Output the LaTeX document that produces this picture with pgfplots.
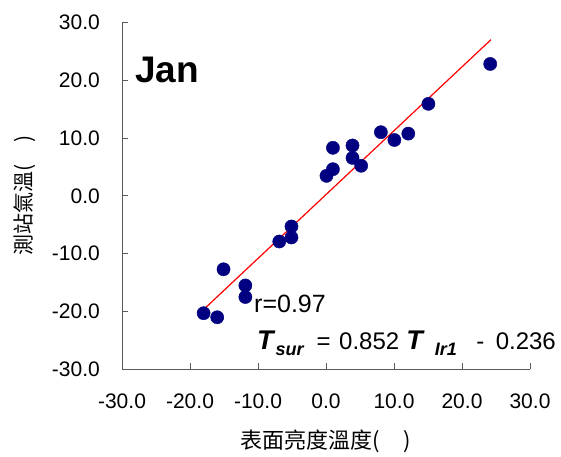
\documentclass[border=0pt]{standalone}
\usepackage{pgfplots}
\pgfplotsset{compat=1.18}
\usepackage{fontspec}
\setmainfont{Liberation Sans}
\newfontfamily\cjk{Noto Sans CJK TC}
\definecolor{navy}{RGB}{0,0,128}
\definecolor{axgray}{RGB}{90,90,90}
\begin{document}
\begin{tikzpicture}
\begin{axis}[
  at={(122pt,-369.3pt)}, anchor=south west,
  width=408pt, height=347pt, scale only axis,
  xmin=-30, xmax=30, ymin=-30, ymax=30,
  axis lines*=left,
  axis line style={axgray, line width=0.8pt},
  tick style={axgray, line width=0.8pt},
  tick align=inside, major tick length=6pt,
  xtick={-30,-20,-10,0,10,20,30},
  ytick={-30,-20,-10,0,10,20,30},
  xticklabels={-30.0,-20.0,-10.0,0.0,10.0,20.0,30.0},
  yticklabels={-30.0,-20.0,-10.0,0.0,10.0,20.0,30.0},
  xticklabel style={font=\fontsize{21}{21}\selectfont, inner sep=0pt, anchor=north, yshift=-24pt},
  yticklabel style={font=\fontsize{21}{21}\selectfont, inner sep=0pt, anchor=east, xshift=-22pt},
  xlabel={\cjk 表面亮度溫度(\hspace{24pt})},
  ylabel={\cjk 測站氣溫(\hspace{22pt})},
  xlabel style={font=\fontsize{22}{22}\selectfont, at={(axis description cs:0.5,-0.2086)}, anchor=center},
  ylabel style={font=\fontsize{21}{21}\selectfont, at={(axis description cs:-0.2377,0.5)}, anchor=center, rotate=0},
  clip=false,
]
\addplot[only marks, mark=*, mark size=6.6pt, mark options={draw=navy, fill=navy}] coordinates {
  (-18.0,-20.3) (-16.0,-21.0) (-15.07,-12.7) (-11.86,-15.5) (-11.86,-17.5)
  (-6.87,-7.9) (-5.08,-5.3) (-5.08,-7.2) (0.07,3.45) (1.02,4.6)
  (1.02,8.3) (3.9,8.7) (3.9,6.55) (5.17,5.2) (8.07,11.0)
  (10.06,9.65) (12.1,10.75) (15.06,15.9) (24.15,22.8)
};
\addplot[red, line width=1.2pt, no marks] coordinates {(-18.0,-19.66) (24.26,27.0)};
\end{axis}
\node[anchor=base west, inner sep=0pt, font=\bfseries\fontsize{37}{37}\selectfont] at (135pt,-82pt) {Jan};
\node[anchor=base west, inner sep=0pt, font=\fontsize{25}{25}\selectfont] at (254pt,-312.7pt) {r=0.97};
\node[anchor=base west, inner sep=0pt, font=\fontsize{24}{24}\selectfont] at (257pt,-349pt)
  {{\fontsize{27}{27}\selectfont\bfseries\itshape T}\hspace{2pt}\raisebox{-6pt}{\fontsize{18}{18}\selectfont\bfseries\itshape sur}\hspace{13pt}=\hspace{8.5pt}0.852\hspace{7pt}{\fontsize{27}{27}\selectfont\bfseries\itshape T}\hspace{12pt}\raisebox{-6pt}{\fontsize{18}{18}\selectfont\bfseries\itshape Ir1}\hspace{19.5pt}-\hspace{11.5pt}0.236};
\pgfresetboundingbox
\path[use as bounding box] (0pt,0pt) rectangle (561pt,-456pt);
\end{tikzpicture}
\end{document}
